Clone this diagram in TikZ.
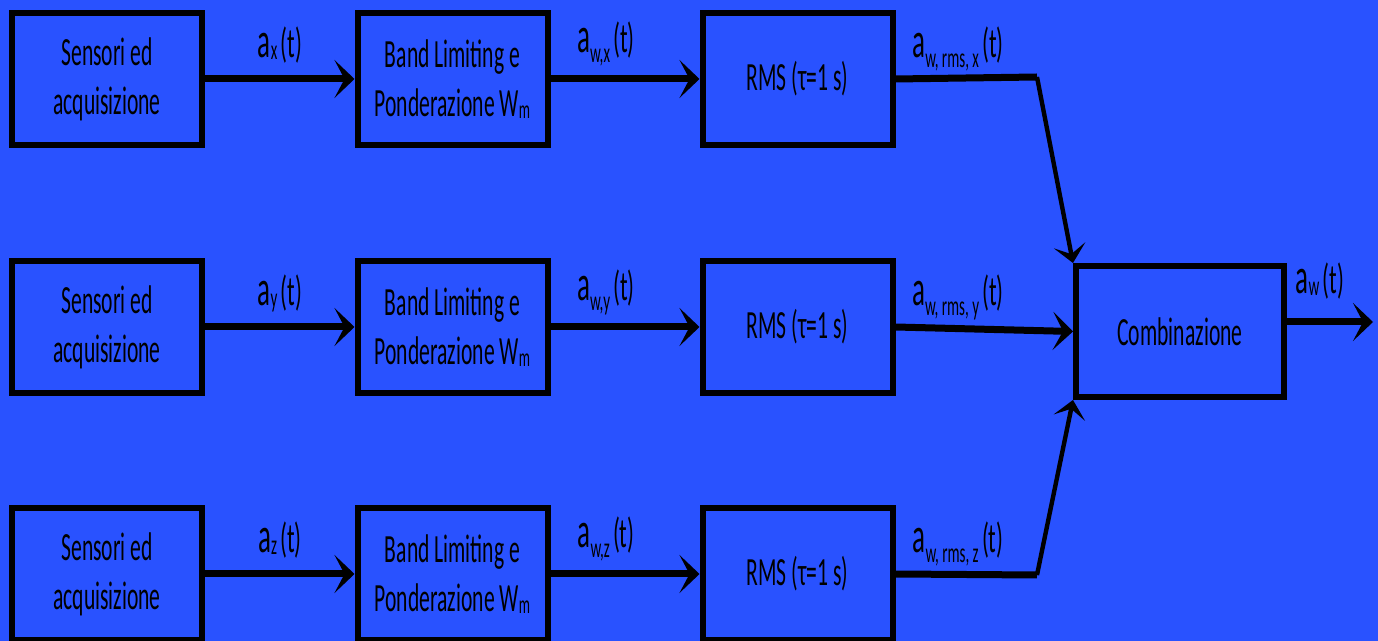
\documentclass[tikz,border=0pt]{standalone}
\usepackage{fontspec}
\setmainfont[FakeStretch=0.54]{Carlito}
\usetikzlibrary{arrows.meta,positioning}
\definecolor{bg}{HTML}{2952FF}

% signal label: a_{sub}(t)
\newcommand{\sig}[2]{{\fontsize{25}{25}\selectfont a}\raisebox{#2}{\fontsize{14}{14}\selectfont #1}\,{\fontsize{21}{21}\selectfont(t)}}
\newcommand{\wm}{W\raisebox{-1pt}{\fontsize{13}{13}\selectfont m}}

\begin{document}
\begin{tikzpicture}[
  x=0.5pt,y=-0.5pt,
  blk/.style={draw,line width=3pt,minimum width=95pt,minimum height=66pt,align=center,inner sep=0pt,font=\fontsize{20}{24.5}\selectfont},
  sig/.style={anchor=base,inner sep=0pt},
  flow/.style={line width=3.5pt,-{Stealth[length=10pt,width=19pt,inset=5pt]}},
  wire/.style={line width=3.5pt},
  slant/.style={line width=2.2pt,-{Stealth[length=9pt,width=16pt,inset=4.5pt]}}
]
  \fill[bg] (0,0) rectangle (1378,641);
  \useasboundingbox (0,0) rectangle (1378,641);

  % sensors
  \node[blk] (senx) at (107,79)  {Sensori ed\\acquisizione};
  \node[blk] (seny) at (107,327) {Sensori ed\\acquisizione};
  \node[blk] (senz) at (107,574) {Sensori ed\\acquisizione};

  % band limiting
  \node[blk] (bandx) at (452.5,79)  {Band Limiting e\\Ponderazione \wm};
  \node[blk] (bandy) at (452.5,327) {Band Limiting e\\Ponderazione \wm};
  \node[blk] (bandz) at (452.5,574) {Band Limiting e\\Ponderazione \wm};

  % rms
  \node[blk] (rmsx) at (797.5,79)  {RMS (τ=1 s)};
  \node[blk] (rmsy) at (797.5,327) {RMS (τ=1 s)};
  \node[blk] (rmsz) at (797.5,574) {RMS (τ=1 s)};

  \node[blk,minimum width=104pt,minimum height=65.5pt] (comb) at (1180,331.5) {Combinazione};

  \coordinate (jx) at (1037,77);
  \coordinate (jz) at (1037,575);
  \coordinate (out) at (1373,322);

  \draw[flow] (senx) -- (bandx);
  \draw[flow] (seny) -- (bandy);
  \draw[flow] (senz) -- (bandz);
  \draw[flow] (bandx) -- (rmsx);
  \draw[flow] (bandy) -- (rmsy);
  \draw[flow] (bandz) -- (rmsz);

  \draw[wire] (rmsx.east) -- (jx);
  \draw[slant] (jx) -- (comb.north west);
  \draw[flow] (rmsy.east) -- (comb.west);
  \draw[wire] (rmsz.east) -- (jz);
  \draw[slant] (jz) -- (comb.south west);
  \draw[flow] (comb.east |- out) -- (out);

  % labels
  \node[sig] (lax) at (280,58)  {\sig{x}{-1pt}};
  \node[sig] (lay) at (280,306) {\sig{y}{-1pt}};
  \node[sig] (laz) at (280,553) {\sig{z}{-1pt}};
  \node[sig] (lwx) at (606,53)  {\sig{w,x}{-5pt}};
  \node[sig] (lwy) at (606,301) {\sig{w,y}{-5pt}};
  \node[sig] (lwz) at (606,548) {\sig{w,z}{-5pt}};
  \node[sig] (lrx) at (958,58)  {\sig{w, rms, x}{-5pt}};
  \node[sig] (lry) at (958,306) {\sig{w, rms, y}{-5pt}};
  \node[sig] (lrz) at (958,553) {\sig{w, rms, z}{-5pt}};
  \node[sig] (lw)  at (1320,294) {\sig{w}{-1pt}};
\end{tikzpicture}
\end{document}
